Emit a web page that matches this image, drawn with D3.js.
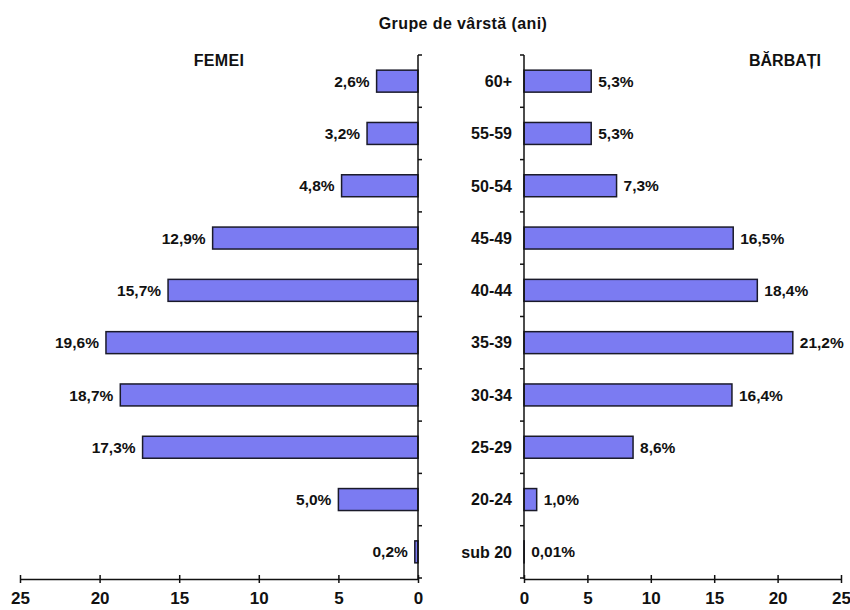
<!DOCTYPE html>
<html><head><meta charset="utf-8">
<script src="https://cdn.jsdelivr.net/npm/d3@7"></script>
<style>body{margin:0;background:#fff}text{font-family:"Liberation Sans",Arial,sans-serif;font-weight:bold;fill:#111}</style>
</head><body><svg id="c" width="850" height="610"></svg>
<script>
const categories = ["60+","55-59","50-54","45-49","40-44","35-39","30-34","25-29","20-24","sub 20"];
const femei = [2.6,3.2,4.8,12.9,15.7,19.6,18.7,17.3,5.0,0.2];
const barbati = [5.3,5.3,7.3,16.5,18.4,21.2,16.4,8.6,1.0,0.01];
const femeiLabels = ["2,6%","3,2%","4,8%","12,9%","15,7%","19,6%","18,7%","17,3%","5,0%","0,2%"];
const barbatiLabels = ["5,3%","5,3%","7,3%","16,5%","18,4%","21,2%","16,4%","8,6%","1,0%","0,01%"];
const xTicks = [0,5,10,15,20,25];

const svg = d3.select("#c");
const y = d3.scaleBand().domain(categories).range([55,578]).paddingInner(0.58).paddingOuter(0.29);
const xL = d3.scaleLinear().domain([0,25]).range([418,20]);
const xR = d3.scaleLinear().domain([0,25]).range([524,841]);
const fill = "#7b7bf2", stroke = "#1a1a2a";
const step = y.step();
const y0 = 55;
const fs = 15.5;

// bars
svg.selectAll(".bl").data(categories).enter().append("rect")
  .attr("x",(d,i)=>xL(femei[i])).attr("y",d=>y(d))
  .attr("width",(d,i)=>xL(0)-xL(femei[i])).attr("height",y.bandwidth())
  .attr("fill",fill).attr("stroke",stroke).attr("stroke-width",1.5);
svg.selectAll(".br").data(categories).enter().append("rect")
  .attr("x",xR(0)).attr("y",d=>y(d))
  .attr("width",(d,i)=>xR(barbati[i])-xR(0)).attr("height",y.bandwidth())
  .attr("fill",fill).attr("stroke",stroke).attr("stroke-width",1.5);

// labels
svg.selectAll(".ll").data(categories).enter().append("text")
  .attr("x",(d,i)=>xL(femei[i])-7).attr("y",d=>y(d)+y.bandwidth()/2).attr("dy","0.36em")
  .attr("text-anchor","end").attr("font-size",fs).text((d,i)=>femeiLabels[i]);
svg.selectAll(".rl").data(categories).enter().append("text")
  .attr("x",(d,i)=>xR(barbati[i])+7).attr("y",d=>y(d)+y.bandwidth()/2).attr("dy","0.36em")
  .attr("text-anchor","start").attr("font-size",fs).text((d,i)=>barbatiLabels[i]);
svg.selectAll(".cl").data(categories).enter().append("text")
  .attr("x",512).attr("y",d=>y(d)+y.bandwidth()/2).attr("dy","0.36em")
  .attr("text-anchor","end").attr("font-size",16).text(d=>d);

// vertical axes with boundary ticks
const bounds = d3.range(categories.length+1).map(i=>y0+i*step);
const ax = svg.append("g").attr("stroke","#111").attr("stroke-width",1.5);
ax.append("line").attr("x1",xL(0)).attr("x2",xL(0)).attr("y1",y0).attr("y2",579);
ax.append("line").attr("x1",xR(0)).attr("x2",xR(0)).attr("y1",y0).attr("y2",579);
bounds.forEach(b=>{
  ax.append("line").attr("x1",xL(0)).attr("x2",xL(0)+4).attr("y1",b).attr("y2",b);
  ax.append("line").attr("x1",xR(0)).attr("x2",xR(0)-4).attr("y1",b).attr("y2",b);
});

// bottom axes
function bottom(scale){
  const g = svg.append("g").attr("transform","translate(0,579)")
    .call(d3.axisBottom(scale).tickValues(xTicks).tickSize(0).tickPadding(13));
  g.select(".domain").attr("stroke","#111").attr("stroke-width",1.5);
  g.selectAll(".tick").append("line").attr("y1",-4).attr("y2",4).attr("stroke","#111").attr("stroke-width",1.5);
  g.selectAll(".tick text").attr("font-size",17).attr("font-family","Liberation Sans, Arial").attr("font-weight","bold").attr("fill","#111");
}
bottom(xL); bottom(xR);

svg.append("text").attr("x",463).attr("y",29).attr("text-anchor","middle").attr("font-size",16).attr("letter-spacing",0.4).text("Grupe de vârstă (ani)");
svg.append("text").attr("x",219).attr("y",66).attr("text-anchor","middle").attr("font-size",16).attr("letter-spacing",0.3).text("FEMEI");
svg.append("text").attr("x",785).attr("y",66).attr("text-anchor","middle").attr("font-size",16).text("BĂRBAȚI");
</script></body></html>
